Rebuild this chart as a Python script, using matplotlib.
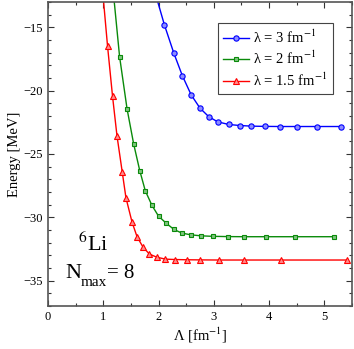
import matplotlib
matplotlib.use("Agg")
import matplotlib.pyplot as plt
from matplotlib.ticker import MultipleLocator

plt.rcParams['font.family'] = ['Liberation Serif', 'DejaVu Serif']
plt.rcParams['mathtext.fontset'] = 'stix'

# lambda = 3 fm^-1
lam3_x = [1.94, 2.107, 2.276, 2.43, 2.59, 2.75, 2.91, 3.07, 3.27, 3.47, 3.68, 3.92, 4.19, 4.50, 4.87, 5.30]
lam3_y = [-12.3, -14.82, -17.03, -18.81, -20.33, -21.38, -22.06, -22.46, -22.67, -22.75, -22.80, -22.82, -22.83, -22.83, -22.83, -22.83]

# lambda = 2 fm^-1
lam2_x = [1.17, 1.295, 1.43, 1.55, 1.66, 1.76, 1.88, 2.00, 2.14, 2.28, 2.42, 2.58, 2.77, 2.98, 3.25, 3.55, 3.94, 4.46, 5.18]
lam2_y = [-11.7, -17.31, -21.43, -24.21, -26.31, -27.90, -29.05, -29.91, -30.47, -30.96, -31.24, -31.38, -31.46, -31.50, -31.52, -31.53, -31.53, -31.53, -31.53]

# lambda = 1.5 fm^-1
lam15_x = [0.99, 1.077, 1.168, 1.248, 1.344, 1.41, 1.52, 1.61, 1.72, 1.835, 1.97, 2.125, 2.29, 2.51, 2.75, 3.09, 3.54, 4.21, 5.41]
lam15_y = [-12.2, -16.47, -20.46, -23.56, -26.45, -28.45, -30.37, -31.52, -32.36, -32.90, -33.15, -33.30, -33.33, -33.35, -33.36, -33.37, -33.37, -33.37, -33.37]

fig = plt.figure(figsize=(3.54, 3.49), dpi=100)
ax = fig.add_axes([48/354, 1 - 306/349, 304/354, 304/349])

ax.plot(lam3_x, lam3_y, '-o', color='#0000ff', mfc='#8c8cff', mec='#0000ff',
        ms=3.8, lw=1.0, mew=0.8, label=r'λ = 3 fm$^{-1}$')
ax.plot(lam2_x, lam2_y, '-s', color='#0a8a0a', mfc='#7fc47f', mec='#0a8a0a',
        ms=3.5, lw=1.0, mew=0.8, label=r'λ = 2 fm$^{-1}$')
ax.plot(lam15_x, lam15_y, '-^', color='#ff0000', mfc='#ff8c8c', mec='#ff0000',
        ms=4.2, lw=1.0, mew=0.8, label=r'λ = 1.5 fm$^{-1}$')

ax.set_xlim(0, 5.5)
ax.set_ylim(-37, -13)
ax.xaxis.set_major_locator(MultipleLocator(1))
ax.xaxis.set_minor_locator(MultipleLocator(0.5))
ax.yaxis.set_major_locator(MultipleLocator(5))
ax.yaxis.set_minor_locator(MultipleLocator(1))
ax.tick_params(which='both', direction='in', top=True, right=True, labelsize=9,
               color='#333333', width=0.8)
ax.tick_params(which='major', length=4.5)
ax.tick_params(which='minor', length=2.5)
for s in ax.spines.values():
    s.set_color('#555555')
    s.set_linewidth(1.2)

ax.set_xlabel(r'Λ [fm$^{-1}$]', fontsize=10.5, labelpad=2)
ax.set_ylabel('Energy [MeV]', fontsize=10.5, labelpad=2)

ax.text(0.545, -32.67, r'$^{6}$Li', fontsize=16, va='baseline')
# N_max = 8, subscript placed by hand
ax.annotate('N', xy=(0.31, -34.76), fontsize=16, va='baseline')
ax.annotate('max', xy=(0.31, -34.76), xytext=(11, -6), textcoords='offset points',
            fontsize=11, va='baseline')
ax.annotate('= 8', xy=(0.31, -34.76), xytext=(30, 0), textcoords='offset points',
            fontsize=15, va='baseline')

leg = ax.legend(loc='upper right', bbox_to_anchor=(0.9365, 0.93), fontsize=10.5,
                fancybox=False, framealpha=1, edgecolor='#444444',
                handlelength=1.8, handletextpad=0.3, borderpad=0.35,
                labelspacing=0.3, borderaxespad=0)
leg.get_frame().set_linewidth(0.8)

fig.savefig('out.png', dpi=100)
